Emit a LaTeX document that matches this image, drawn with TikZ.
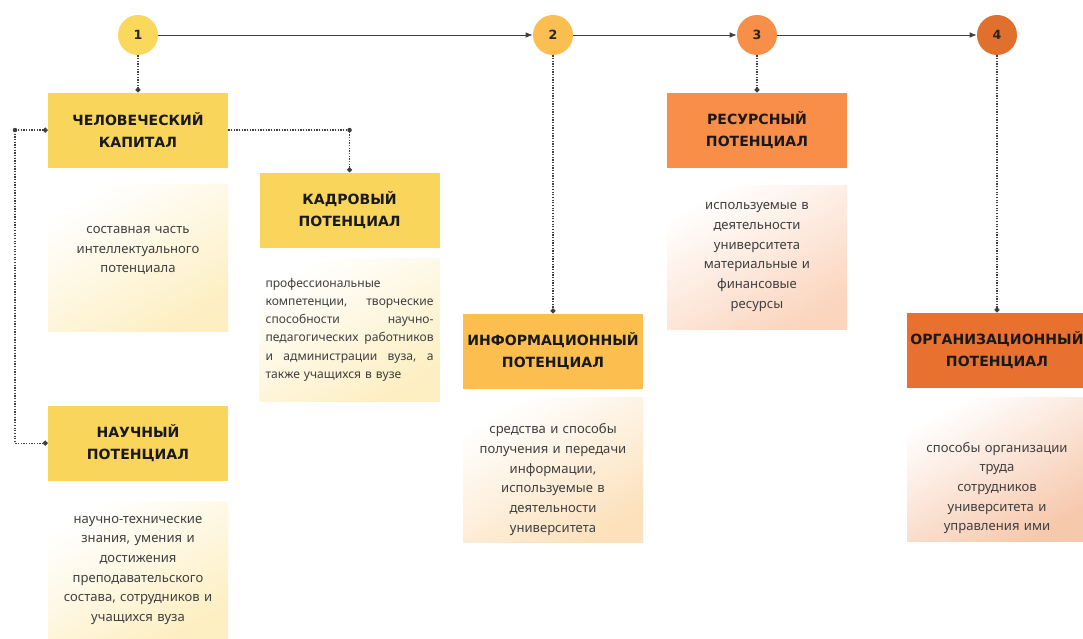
\documentclass[tikz,border=0pt]{standalone}
\usepackage{fontspec}
\setmainfont{Noto Sans}
\newfontfamily\headfont{DejaVu Sans}
\usetikzlibrary{positioning, calc, arrows.meta}

% Cores
\definecolor{amarelo}{HTML}{F9D65B}
\definecolor{laranja_claro}{HTML}{FBBE4F}
\definecolor{laranja}{HTML}{F98E48}
\definecolor{laranja_escuro}{HTML}{E8712F}
\definecolor{circ_a}{HTML}{F9D85B}
\definecolor{circ_b}{HTML}{FBBE50}
\definecolor{circ_c}{HTML}{F88F48}
\definecolor{circ_d}{HTML}{E1702E}
\definecolor{fundo_amarelo}{HTML}{FDEFC2}
\definecolor{fundo_laranja_claro}{HTML}{FCE1BC}
\definecolor{fundo_laranja}{HTML}{FBD5BE}
\definecolor{fundo_laranja_escuro}{HTML}{F6C8AC}

% linha justificada (texto do quadro "кадровый")
\newcommand{\jline}[1]{\makebox[4.2cm][s]{#1}\\}

\begin{document}
\begin{tikzpicture}[
    node distance=0.4cm,
    % Estilos
    num_circle/.style={
        circle, minimum size=1cm, inner sep=0pt,
        font=\headfont\bfseries\fontsize{9}{11}\selectfont, text=black!85
    },
    head_box/.style={
        rectangle, minimum width=4.5cm, minimum height=1.875cm,
        inner xsep=0pt, align=center, text=black!90,
        font=\headfont\bfseries\fontsize{10}{15.5}\selectfont
    },
    desc_box/.style={
        rectangle, text width=4.3cm, inner xsep=0.1cm,
        minimum height=3.6cm, align=center, text=black!75,
        font=\fontsize{9.3}{14}\selectfont,
        top color=white, bottom color=#1, shading angle=30
    },
    line_dot/.style={densely dotted, line width=0.9pt, color=black!75},
    line_arrow/.style={-{Latex[length=5pt, width=4pt]}, line width=0.7pt, color=black!75},
    tip_dot/.style={-{Circle[length=3.5pt]}}
]

    % Area da figura
    \useasboundingbox[fill=white] (0,0) rectangle (27.075,-15.975);

    % --- ETAPAS (círculos) ---
    \node[num_circle, fill=circ_a] (c1) at (3.45,-0.875) {1};
    \node[num_circle, fill=circ_b] (c2) at (13.825,-0.875) {2};
    \node[num_circle, fill=circ_c] (c3) at (18.925,-0.875) {3};
    \node[num_circle, fill=circ_d] (c4) at (24.925,-0.875) {4};

    % --- NÓS ---
    % Coluna 1
    \node[head_box, fill=amarelo, below=0.925cm of c1] (hum) {ЧЕЛОВЕЧЕСКИЙ\\КАПИТАЛ};
    \node[desc_box=fundo_amarelo, minimum height=3.675cm, below=0.4cm of hum] (hum_txt)
        {составная часть\\интеллектуального\\потенциала\rule[-0.4cm]{0pt}{0.4cm}};
    \node[head_box, fill=amarelo, below=1.85cm of hum_txt] (sci) {НАУЧНЫЙ\\ПОТЕНЦИАЛ};
    \node[desc_box=fundo_amarelo, minimum height=3.45cm, below=0.5cm of sci] (sci_txt)
        {научно-технические\\знания, умения и\\достижения\\преподавательского\\состава, сотрудников и\\учащихся вуза};

    % Kadrovyi (deslocado em relação ao nó hum)
    \node[head_box, fill=amarelo, anchor=north west] (staff) at ([xshift=0.775cm, yshift=-2cm]hum.north east) {КАДРОВЫЙ\\ПОТЕНЦИАЛ};
    \node[desc_box=fundo_amarelo, text width=4.2cm, inner xsep=0.15cm, align=left,
          font=\fontsize{8.6}{13}\selectfont,
          minimum height=3.575cm, below=0.25cm of staff] (staff_txt)
        {профессиональные\\
         \jline{компетенции,\hfill творческие}
         \jline{способности\hfill научно-}
         \jline{педагогических\hfill работников}
         \jline{и\hfill администрации\hfill вуза,\hfill а}
         также учащихся в вузе};

    % Coluna 2
    \node[head_box, fill=laranja_claro, below=6.45cm of c2] (info) {ИНФОРМАЦИОННЫЙ\\ПОТЕНЦИАЛ};
    \node[desc_box=fundo_laranja_claro, minimum height=3.625cm, below=0.2cm of info] (info_txt)
        {\rule{0pt}{0.75cm}средства и способы\\получения и передачи\\информации,\\используемые в\\деятельности\\университета};

    % Coluna 3
    \node[head_box, fill=laranja, below=0.925cm of c3] (res) {РЕСУРСНЫЙ\\ПОТЕНЦИАЛ};
    \node[desc_box=fundo_laranja, below=0.425cm of res] (res_txt)
        {используемые в\\деятельности\\университета\\материальные и\\финансовые\\ресурсы};

    % Coluna 4
    \node[head_box, fill=laranja_escuro, below=6.425cm of c4] (org) {ОРГАНИЗАЦИОННЫЙ\\ПОТЕНЦИАЛ};
    \node[desc_box=fundo_laranja_escuro, below=0.225cm of org] (org_txt)
        {\rule{0pt}{1.2cm}способы организации\\труда\\сотрудников\\университета и\\управления ими};

    % --- CONEXÕES ---
    % Linha do tempo
    \draw[line_arrow] (c1) -- (c2);
    \draw[line_arrow] (c2) -- (c3);
    \draw[line_arrow] (c3) -- (c4);

    % Descidas pontilhadas
    \draw[line_dot, tip_dot] (c1) -- (hum);
    \draw[line_dot, tip_dot] (c2) -- (info);
    \draw[line_dot, tip_dot] (c3) -- (res);
    \draw[line_dot, tip_dot] (c4) -- (org);

    % Ramo direito: hum -> staff
    \draw[line_dot, tip_dot] (hum.east) -| (staff.north);
    \fill[black!75] (hum.east -| staff.north) circle (1.6pt);

    % Ramo esquerdo: hum -> sci
    \coordinate (edge_l) at (0.375,0);
    \draw[line_dot, {Circle[length=3.5pt]}-{Circle[length=3.5pt]}] (hum.west) -- (hum.west -| edge_l) |- (sci.west);
    \fill[black!75] (hum.west -| edge_l) circle (1.6pt);

\end{tikzpicture}
\end{document}
